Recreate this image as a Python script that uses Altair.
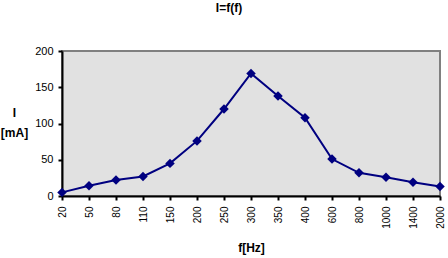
import altair as alt
import pandas as pd

freqs = ["20", "50", "80", "110", "150", "200", "250", "300", "350", "400",
         "600", "800", "1000", "1400", "2000"]
current = [5, 14, 22, 27, 45, 76, 120, 169, 138, 108, 51, 32, 26, 19, 13]

df = pd.DataFrame({"f": freqs, "I": current})

FONT = "Liberation Sans"

base = alt.Chart(df).encode(
    x=alt.X("f:N", sort=freqs,
            scale=alt.Scale(type="point", padding=0),
            axis=alt.Axis(title="f[Hz]", labelAngle=-90, labelAlign="right",
                          labelBaseline="middle", labelPadding=6,
                          labelFont=FONT, labelFontSize=10, labelColor="#000",
                          tickSize=4, tickWidth=2, tickColor="#000",
                          domainColor="#000", domainWidth=2,
                          titleFont=FONT, titleFontSize=12, titleFontWeight="bold",
                          titleY=46, titleBaseline="top", titleColor="#000")),
    y=alt.Y("I:Q", scale=alt.Scale(domain=[0, 200], nice=False),
            axis=alt.Axis(title=["I", "[mA]"], values=[0, 50, 100, 150, 200],
                          grid=False, labelFont=FONT, labelFontSize=11,
                          labelColor="#000", labelPadding=5,
                          tickSize=4, tickWidth=2, tickColor="#000",
                          domainColor="#000", domainWidth=2,
                          titleAngle=0, titleX=-48, titleY=56,
                          titleAlign="center", titleBaseline="top",
                          titleLineHeight=20, titleFont=FONT, titleFontSize=12,
                          titleFontWeight="bold", titleColor="#000")),
)

line = base.mark_line(color="#000080", strokeWidth=2)
pts = base.mark_point(shape="diamond", filled=True, color="#000080", size=90, opacity=1)

chart = (line + pts).properties(
    width=378, height=145,
    title=alt.TitleParams("I=f(f)", font=FONT, fontSize=12, fontWeight="bold",
                          color="#000", anchor="middle", dx=-22, offset=18,
                          baseline="bottom"),
    autosize=alt.AutoSizeParams(type="none"),
    padding={"left": 62, "top": 51, "right": 8, "bottom": 62},
).configure_view(fill="#e1e1e1", stroke="#808080", strokeWidth=2)

chart.save("out.html", embed_options={"renderer": "svg", "actions": False})
